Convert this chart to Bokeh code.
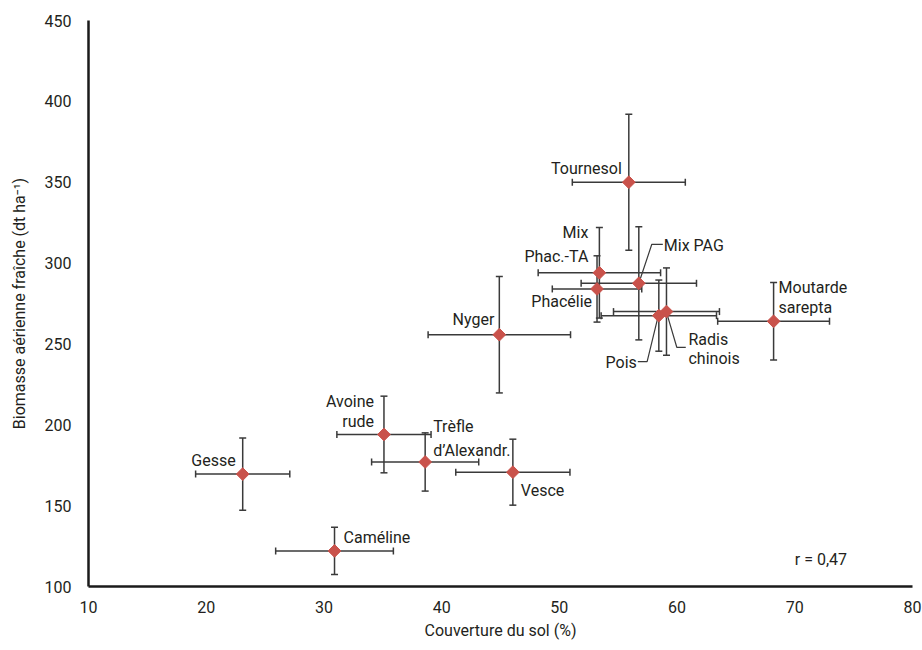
from bokeh.plotting import figure
from bokeh.models import FixedTicker, ColumnDataSource, Label
from bokeh.core.properties import value
from bokeh.embed import file_html
from bokeh.resources import INLINE
import math

# ---- data ----
species = ["Tournesol", "Mix Phac.-TA", "Phacélie", "Mix PAG", "Pois", "Radis chinois",
           "Moutarde sarepta", "Nyger", "Avoine rude", "Trèfle d'Alexandr.", "Vesce",
           "Gesse", "Caméline"]
couverture = [55.9, 53.4, 53.2, 56.75, 58.45, 59.1, 68.2, 44.9, 35.1, 38.6, 46.05, 23.1, 30.9]
couverture_err = [4.8, 5.2, 3.8, 4.9, 4.9, 4.5, 4.75, 6.05, 4.0, 4.55, 4.85, 4.0, 5.0]
biomasse = [350, 294, 284, 287.5, 267.5, 270, 264, 255.7, 194, 177, 170.7, 169.5, 122]
biomasse_err = [42, 28, 20.5, 35, 22, 27, 24, 36, 23.7, 18, 20.4, 22.4, 14.6]
x_ticks = [10, 20, 30, 40, 50, 60, 70, 80]
y_ticks = [100, 150, 200, 250, 300, 350, 400, 450]
r_text = "r = 0,47"

# label lines: (point index, text, dx px, dy px, align)
label_lines = [
    (0, "Tournesol", -7, -14, "right"),
    (1, "Mix", -11, -40, "right"),
    (1, "Phac.-TA", -11, -16, "right"),
    (2, "Phacélie", -5, 13, "right"),
    (3, "Mix PAG", 25, -38, "left"),
    (4, "Pois", -22, 47, "right"),
    (5, "Radis", 22, 28, "left"),
    (5, "chinois", 22, 47, "left"),
    (6, "Moutarde", 5, -34, "left"),
    (6, "sarepta", 5, -14, "left"),
    (7, "Nyger", -5, -15, "right"),
    (8, "Avoine", -10, -33, "right"),
    (8, "rude", -10, -13, "right"),
    (9, "Trèfle", 8, -35, "left"),
    (9, "d\u2019Alexandr.", 8, -11, "left"),
    (10, "Vesce", 8, 18, "left"),
    (11, "Gesse", -7, -14, "right"),
    (12, "Caméline", 9, -13, "left"),
]
# leader lines in pixel offsets from the point
leaders = [
    (3, [1, 13, 24], [-3, -39, -39]),
    (4, [-21, -11.7, -1], [46, 46, 2]),
    (5, [1, 10.3, 19.3], [4, 35.7, 35.7]),
]

FONT = "Roboto"
TXT = "#231f20"
W, H = 922, 650
ML, MR, MT, MB = 88, 10, 20, 64

p = figure(width=W, height=H, x_range=(10, 80), y_range=(100, 450),
           output_backend="svg", toolbar_location=None,
           min_border_left=ML, min_border_right=MR, min_border_top=MT, min_border_bottom=MB)
p.grid.visible = False
p.outline_line_color = None
p.background_fill_color = "white"
p.border_fill_color = "white"

px_x = 70 / (W - ML - MR)
px_y = 350 / (H - MT - MB)

for ax in (p.xaxis[0], p.yaxis[0]):
    ax.axis_line_width = 2.5
    ax.axis_line_color = "#1a1a1a"
    ax.major_tick_line_color = None
    ax.minor_tick_line_color = None
    ax.major_label_text_font = FONT
    ax.major_label_text_font_size = "16px"
    ax.major_label_text_color = TXT
    ax.axis_label_text_font = FONT
    ax.axis_label_text_font_style = "normal"
    ax.axis_label_text_color = TXT
    ax.axis_label_text_font_size = "16px"

p.xaxis.ticker = FixedTicker(ticks=x_ticks)
p.yaxis.ticker = FixedTicker(ticks=y_ticks)
p.xaxis.axis_label = "Couverture du sol (%)"
p.yaxis.axis_label = "Biomasse aérienne fraîche (dt ha\u207b\u00b9)"
p.xaxis.major_label_standoff = 8
p.xaxis.axis_label_standoff = 5
p.yaxis.major_label_standoff = 11
p.yaxis.axis_label_standoff = 13

ERR = "#3a3a3a"
n = len(species)
xlo = [couverture[i] - couverture_err[i] for i in range(n)]
xhi = [couverture[i] + couverture_err[i] for i in range(n)]
ylo = [biomasse[i] - biomasse_err[i] for i in range(n)]
yhi = [biomasse[i] + biomasse_err[i] for i in range(n)]

p.segment(x0=xlo, y0=biomasse, x1=xhi, y1=biomasse, line_color=ERR, line_width=1.5)
p.segment(x0=couverture, y0=ylo, x1=couverture, y1=yhi, line_color=ERR, line_width=1.5)
p.scatter(x=xlo + xhi, y=biomasse + biomasse, marker="dash", size=7, angle=math.pi / 2,
          line_color=ERR, line_width=1.5)
p.scatter(x=couverture + couverture, y=ylo + yhi, marker="dash", size=7,
          line_color=ERR, line_width=1.5)

for idx, dxs, dys in leaders:
    p.line(x=[couverture[idx] + d * px_x for d in dxs],
           y=[biomasse[idx] - d * px_y for d in dys],
           line_color=ERR, line_width=1.2)

p.scatter(x=couverture, y=biomasse, marker="square", size=9, angle=math.pi / 4,
          fill_color="#c9524b", line_color="#c9524b")

for align in ("left", "right"):
    rows = [l for l in label_lines if l[4] == align]
    src = ColumnDataSource(dict(
        x=[couverture[r[0]] for r in rows],
        y=[biomasse[r[0]] for r in rows],
        t=[r[1] for r in rows],
        dx=[r[2] for r in rows],
        dy=[r[3] for r in rows],
    ))
    p.text(x="x", y="y", text="t", x_offset="dx", y_offset="dy", source=src,
           text_align=align, text_baseline="middle", text_font=value(FONT),
           text_font_size="16px", text_color=TXT)

p.add_layout(Label(x=70, y=117, text=r_text, text_align="left", text_baseline="middle",
                   text_font=FONT, text_font_size="16px", text_color=TXT))

open("out.html", "w").write(file_html(p, INLINE))
